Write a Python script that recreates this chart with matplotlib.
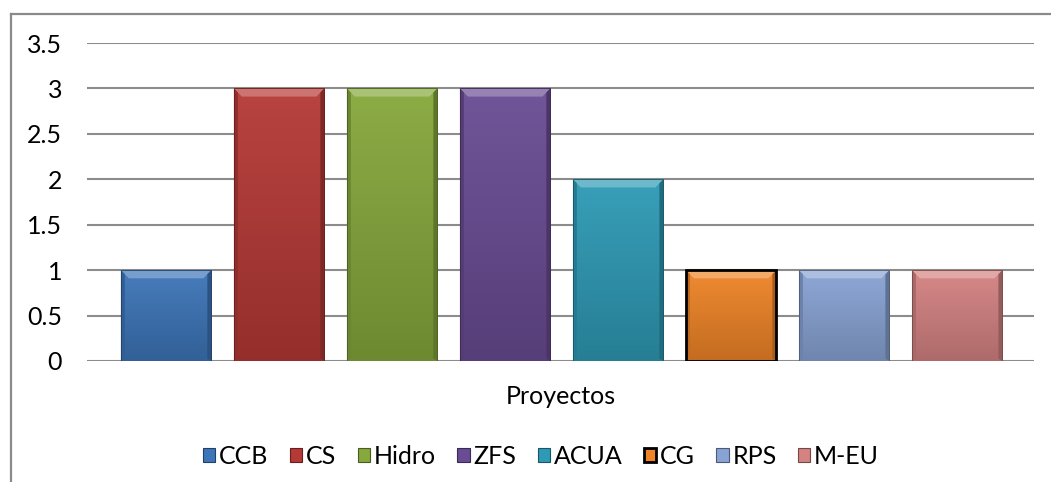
import numpy as np
import matplotlib
matplotlib.use('Agg')
import matplotlib.pyplot as plt
from matplotlib.patches import Polygon, Patch
from matplotlib.colors import to_rgb

# data
series = ['CCB', 'CS', 'Hidro', 'ZFS', 'ACUA', 'CG', 'RPS', 'M-EU']
values = [1, 3, 3, 3, 2, 1, 1, 1]
colors = ['#3d75b8', '#b53936', '#86a83c', '#694c93', '#2e9ab5', '#ee8427', '#88a3d4', '#d48282']
category = 'Proyectos'
yticks = [0, 0.5, 1, 1.5, 2, 2.5, 3, 3.5]

plt.rcParams['font.family'] = ['Lato', 'DejaVu Sans']


def mix(c, t, k):
    c = np.array(to_rgb(c))
    t = np.array(to_rgb(t))
    return tuple(c + (t - c) * k)


fig = plt.figure(figsize=(10.51, 4.82), dpi=100)
ax = fig.add_axes([87 / 1051, 1 - 361 / 482, (1034 - 87) / 1051, (361 - 43) / 482])

# outer chart frame (only top/left visible in the crop)
fig.add_artist(plt.Line2D([11 / 1051, 1], [1 - 14 / 482, 1 - 14 / 482], color='#8a8a8a', lw=1.6,
                          transform=fig.transFigure))
fig.add_artist(plt.Line2D([11 / 1051, 11 / 1051], [0, 1 - 14 / 482], color='#8a8a8a', lw=1.6,
                          transform=fig.transFigure))

width = 0.8
dx = 0.07
dy = 0.09
for i, (name, v, c) in enumerate(zip(series, values, colors)):
    x0, x1 = i - width / 2, i + width / 2
    ec = 'black' if name == 'CG' else mix(c, 'black', 0.45)
    lw = 2.0 if name == 'CG' else 0.6
    b = ax.bar(i, v, width, color=c, edgecolor='none', zorder=3)[0]
    grad = np.linspace(0, 1, 100)[:, None, None]
    lo = np.array(mix(c, 'black', 0.18))
    hi = np.array(mix(c, 'white', 0.05))
    img = lo + (hi - lo) * grad
    img = np.repeat(img, 2, axis=1)
    im = ax.imshow(img, extent=(x0, x1, 0, v), origin='lower', aspect='auto', zorder=3.1)
    im.set_clip_path(b)
    # bevel pieces
    ax.add_patch(Polygon([(x0, v), (x1, v), (x1 - dx, v - dy), (x0 + dx, v - dy)],
                         closed=True, color=mix(c, 'white', 0.3), lw=0, zorder=3.2))
    ax.add_patch(Polygon([(x0, 0), (x0, v), (x0 + dx * 0.5, v - dy * 0.5), (x0 + dx * 0.5, dy * 0.3)],
                         closed=True, color=mix(c, 'black', 0.2), lw=0, zorder=3.2))
    ax.add_patch(Polygon([(x1, 0), (x1, v), (x1 - dx * 0.5, v - dy * 0.5), (x1 - dx * 0.5, dy * 0.3)],
                         closed=True, color=mix(c, 'black', 0.3), lw=0, zorder=3.2))
    ax.add_patch(Polygon([(x0, v), (x1, v), (x1, 0), (x0, 0)], closed=True, fill=False,
                         edgecolor=ec, lw=lw, zorder=3.3))

ax.set_xlim(-0.7, 7.68)
ax.set_ylim(0, 3.5)
ax.set_yticks(yticks)
ax.set_yticklabels(['0', '0.5', '1', '1.5', '2', '2.5', '3', '3.5'])
ax.set_xticks([])
ax.yaxis.grid(True, color='#8c8c8c', lw=1.5, zorder=0)
ax.set_axisbelow(True)
for s in ax.spines.values():
    s.set_visible(False)
ax.tick_params(axis='y', length=0, pad=18, labelsize=18)
ax.set_xlabel(category, fontsize=18, labelpad=17)

handles = []
for name, c in zip(series, colors):
    ec = 'black' if name == 'CG' else mix(c, 'black', 0.45)
    handles.append(Patch(facecolor=c, edgecolor=ec, lw=2.0 if name == 'CG' else 0.8, label=name))
fig.legend(handles=handles, ncol=8, loc='center', bbox_to_anchor=(541 / 1051, 1 - 456 / 482),
           frameon=False, fontsize=18, handlelength=0.5, handleheight=0.5,
           handletextpad=0.15, columnspacing=0.85)

fig.savefig('out.png', dpi=100)
